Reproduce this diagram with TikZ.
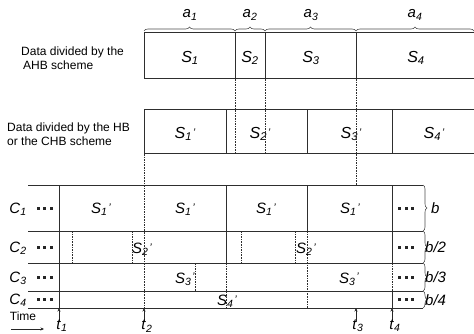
\documentclass[tikz,border=0pt]{standalone}
\usepackage{fontspec}
\setmainfont{Liberation Sans}
\usetikzlibrary{decorations.pathreplacing,arrows.meta}
\newcommand{\Sx}[1]{\textit{S}\textsubscript{\textit{#1}}}
\newcommand{\Sq}[1]{\textit{S}\textsubscript{\textit{#1}}{\fontsize{11}{11}\selectfont\kern0.8pt\raisebox{0.35ex}{\textit{’}}}}
\newcommand{\Cx}[1]{\textit{C}\textsubscript{\textit{#1}}}
\newcommand{\tx}[1]{\textit{t}\textsubscript{\textit{#1}}}
\newcommand{\ax}[1]{\textit{a}\textsubscript{\textit{#1}}}
\tikzset{
  ln/.style={draw=black!82, line width=1pt},
  dsh/.style={draw=black!82, line width=0.85pt, dash pattern=on 1.6pt off 1pt},
  big/.style={font=\fontsize{16}{18}\selectfont, inner sep=0pt},
  mid/.style={font=\fontsize{15}{17}\selectfont, inner sep=0pt},
  txt/.style={font=\fontsize{12}{13.5}\selectfont, inner sep=0pt, align=left},
  brc/.style={draw=black!70, line width=0.6pt, decorate, decoration={brace, amplitude=4pt}},
  tarr/.style={draw=black!85, line width=0.7pt, -{Stealth[length=3.5pt,width=3pt]}},
  dotsq/.style={fill=black!85}
}
\newcommand{\mydots}[2]{\foreach \k in {0,1,2}{\fill[dotsq] ({#1+\k*6.5-1.5},{#2-1.5}) rectangle ++(3,3);}}
\begin{document}
\begin{tikzpicture}[x=1pt,y=-1pt]
\useasboundingbox (0,0) rectangle (474,334);
% ---------- AHB row ----------
\draw[ln] (474,33) -- (144,33) -- (144,79) -- (474,79);
\draw[ln] (235,33) -- (235,79) (265,33) -- (265,79) (356,33) -- (356,79);
\draw[brc] (144,31) -- (235,31);
\draw[brc] (235,31) -- (265,31);
\draw[brc] (265,31) -- (356,31);
\draw[brc] (356,31) -- (474,31);
\node[mid] (a1) at (190,15) {\ax{1}};
\node[mid] (a2) at (250,15) {\ax{2}};
\node[mid] (a3) at (311,15) {\ax{3}};
\node[mid] (a4) at (415,15) {\ax{4}};
\node[big] (s1) at (190,58) {\Sx{1}};
\node[big] (s2) at (250,58) {\Sx{2}};
\node[big] (s3) at (311,58) {\Sx{3}};
\node[big] (s4) at (416,58) {\Sx{4}};
\node[txt, anchor=west] (lab1) at (21,58) {Data divided by the\\\hspace*{2pt}AHB scheme};
% ---------- HB row ----------
\draw[ln] (474,110) -- (144,110) -- (144,154) -- (474,154);
\draw[ln] (226,110) -- (226,154) (307,110) -- (307,154) (392,110) -- (392,154);
\node[big] (h1) at (185,134) {\Sq{1}};
\node[big] (h2) at (260,134) {\Sq{2}};
\node[big] (h3) at (351,134) {\Sq{3}};
\node[big] (h4) at (434,134) {\Sq{4}};
\node[txt, anchor=west] (lab2) at (7,134) {Data divided by the HB\\or the CHB scheme};
% dashed projections
\draw[dsh] (235,79) -- (235,154);
\draw[dsh] (265,79) -- (265,154);
\draw[dsh] (356,79) -- (356,185);
\draw[dsh] (144,154) -- (144,308);
% ---------- channel rows ----------
\foreach \yy in {185,231,263,291,308} { \draw[ln] (28,\yy) -- (423,\yy); }
\draw[ln] (59,185) -- (59,308);
\draw[ln] (226,185) -- (226,263);
\draw[dsh] (226,263) -- (226,308);
\draw[ln] (307,185) -- (307,231);
\draw[dsh] (307,231) -- (307,308);
\draw[ln] (392,185) -- (392,263);
\draw[dsh] (392,263) -- (392,291);
\draw[ln] (392,291) -- (392,308);
% C2 dashed
\draw[dsh] (72,231) -- (72,263) (132,231) -- (132,263) (241,231) -- (241,263) (295,231) -- (295,263);
% C3 dashed
\draw[dsh] (195,263) -- (195,291);
% braces right
\draw[brc] (423,185) -- (423,231);
\draw[brc] (423,231) -- (423,263);
\draw[brc] (423,263) -- (423,291);
\draw[brc] (423,291) -- (423,308);
\node[mid, anchor=west] (b1) at (431,208) {\textit{b}};
\node[mid, anchor=west] (b2) at (425,247) {\textit{b/2}};
\node[mid, anchor=west] (b3) at (425,277) {\textit{b/3}};
\node[mid, anchor=west] (b4) at (425,300) {\textit{b/4}};
% C labels
\node[mid] (c1) at (18,209) {\Cx{1}};
\node[mid] (c2) at (18,248) {\Cx{2}};
\node[mid] (c3) at (18,278) {\Cx{3}};
\node[mid] (c4) at (18,300) {\Cx{4}};
% dots
\mydots{38}{208}
\mydots{38}{247}
\mydots{38}{277}
\mydots{38}{299.5}
\mydots{399.5}{208}
\mydots{399.5}{247}
\mydots{399.5}{277}
\mydots{399.5}{299.5}
% S' labels in rows
\node[mid] (r11) at (101,209) {\Sq{1}};
\node[mid] (r12) at (185,209) {\Sq{1}};
\node[mid] (r13) at (266,209) {\Sq{1}};
\node[mid] (r14) at (350,209) {\Sq{1}};
\node[mid, anchor=west] (r21) at (132,249) {\Sq{2}};
\node[mid, anchor=west] (r22) at (296,249) {\Sq{2}};
\node[mid, anchor=east] (r31) at (195,279) {\Sq{3}};
\node[mid] (r32) at (349,279) {\Sq{3}};
\node[mid] (r41) at (227,301) {\Sq{4}};
% time markers
\coordinate (p1) at (59,321); \coordinate (q1) at (59,308);
\coordinate (p2) at (144,321); \coordinate (q2) at (144,308);
\coordinate (p3) at (356,321); \coordinate (q3) at (356,308);
\coordinate (p4) at (392,321); \coordinate (q4) at (392,308);
\draw[tarr] (p1) -- (q1);
\draw[tarr] (p2) -- (q2);
\draw[tarr] (p3) -- (q3);
\draw[tarr] (p4) -- (q4);
\node[mid] (t1) at (62,326) {\tx{1}};
\node[mid] (t2) at (147,326) {\tx{2}};
\node[mid] (t3) at (358,326) {\tx{3}};
\node[mid] (t4) at (395,326) {\tx{4}};
\node[txt] (time) at (23,316) {Time};
\coordinate (ta) at (11,329); \coordinate (tb) at (44,329);
\draw[tarr] (ta) -- (tb);
\end{tikzpicture}
\end{document}
